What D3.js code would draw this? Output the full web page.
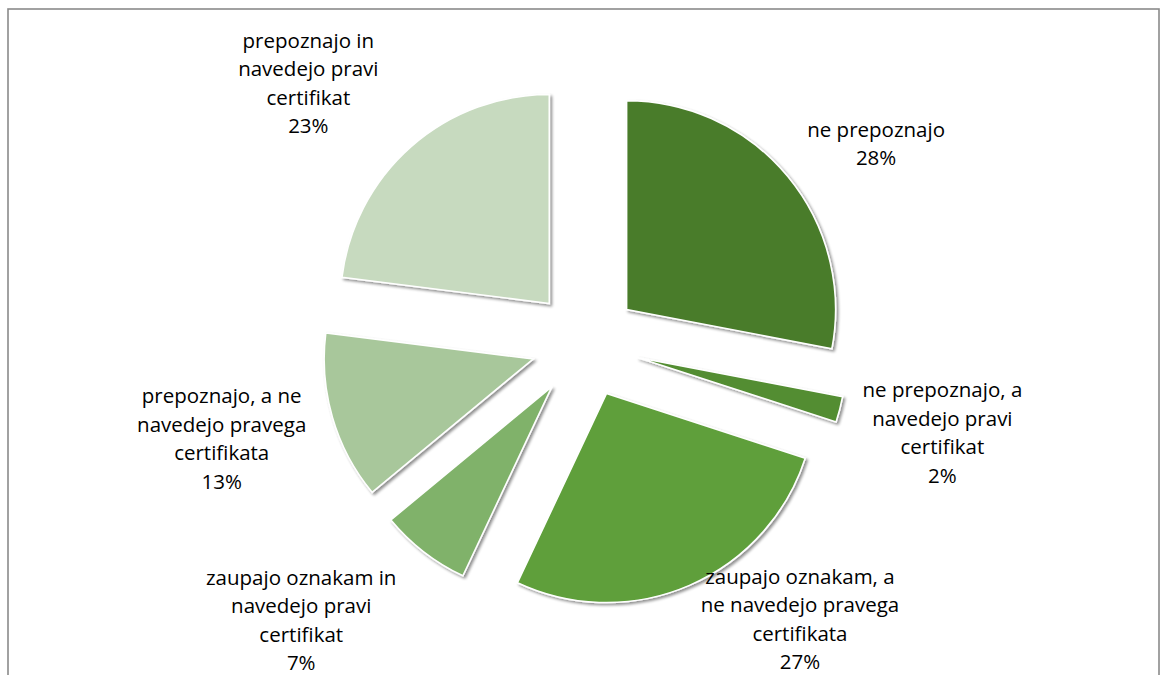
<!DOCTYPE html>
<html>
<head>
<meta charset="utf-8">
<script src="https://cdn.jsdelivr.net/npm/d3@7/dist/d3.min.js"></script>
<style>
  html, body { margin: 0; padding: 0; background: #fff; }
  svg { display: block; }
  text { font-family: "Open Sans", "Noto Sans", sans-serif; fill: #000; }
</style>
</head>
<body>
<svg id="chart" width="1160" height="675"></svg>
<script>
// ---- data ----
const categories = [
  ["ne prepoznajo"],
  ["ne prepoznajo, a", "navedejo pravi", "certifikat"],
  ["zaupajo oznakam, a", "ne navedejo pravega", "certifikata"],
  ["zaupajo oznakam in", "navedejo pravi", "certifikat"],
  ["prepoznajo, a ne", "navedejo pravega", "certifikata"],
  ["prepoznajo in", "navedejo pravi", "certifikat"]
];
const values = [28, 2, 27, 7, 13, 23];
const percentLabels = ["28%", "2%", "27%", "7%", "13%", "23%"];
const colors = ["#4a7c2b", "#528d30", "#5e9f3a", "#80b26a", "#a8c79b", "#c7dabf"];

// ---- layout (styling constants) ----
const W = 1160, H = 675;
const cx = 585, cy = 344, radius = 209, explode = 54;
const labelRadius = 370;
const labelNudge = [[6, 36], [-1, -3], [68, -64], [-57, -16], [-8, -8], [-32, 17]];
const lineGap = 28.5;

const svg = d3.select("#chart");

// frame
svg.append("rect")
  .attr("x", 8).attr("y", 9)
  .attr("width", W - 9).attr("height", H + 20)
  .attr("fill", "none").attr("stroke", "#8a8a8a").attr("stroke-width", 1.6);

// shadow filter
const defs = svg.append("defs");
const f = defs.append("filter").attr("id", "shadow")
  .attr("x", "-20%").attr("y", "-20%").attr("width", "140%").attr("height", "140%");
f.append("feGaussianBlur").attr("in", "SourceAlpha").attr("stdDeviation", 1.6).attr("result", "b");
f.append("feOffset").attr("in", "b").attr("dx", 1.5).attr("dy", 2).attr("result", "o");
f.append("feComponentTransfer").attr("in", "o").attr("result", "s")
  .append("feFuncA").attr("type", "linear").attr("slope", 0.45);
const fm = f.append("feMerge");
fm.append("feMergeNode").attr("in", "s");
fm.append("feMergeNode").attr("in", "SourceGraphic");

const pie = d3.pie().sort(null).value(d => d);
const arcs = pie(values);
const arc = d3.arc().innerRadius(0).outerRadius(radius);

const g = svg.append("g").attr("transform", `translate(${cx},${cy})`);

g.selectAll("path.slice")
  .data(arcs)
  .join("path")
  .attr("class", "slice")
  .attr("d", arc)
  .attr("transform", d => {
    const a = (d.startAngle + d.endAngle) / 2;
    return `translate(${explode * Math.sin(a)},${-explode * Math.cos(a)})`;
  })
  .attr("fill", (d, i) => colors[i])
  .attr("stroke", "#ffffff")
  .attr("stroke-width", 1.6)
  .attr("stroke-linejoin", "miter")
  .attr("filter", "url(#shadow)");

// labels
const labels = g.selectAll("text.lbl")
  .data(arcs)
  .join("text")
  .attr("class", "lbl")
  .attr("text-anchor", "middle")
  .style("font-size", "20.5px")
  .attr("transform", (d, i) => {
    const a = (d.startAngle + d.endAngle) / 2;
    const x = labelRadius * Math.sin(a) + labelNudge[i][0];
    const y = -labelRadius * Math.cos(a) + labelNudge[i][1];
    return `translate(${x},${y})`;
  });

labels.each(function(d, i) {
  const lines = categories[i].concat([percentLabels[i]]);
  const n = lines.length;
  d3.select(this).selectAll("tspan")
    .data(lines)
    .join("tspan")
    .attr("x", 0)
    .attr("y", (t, j) => (j - (n - 1) / 2) * lineGap + 7)
    .text(t => t);
});
</script>
</body>
</html>
